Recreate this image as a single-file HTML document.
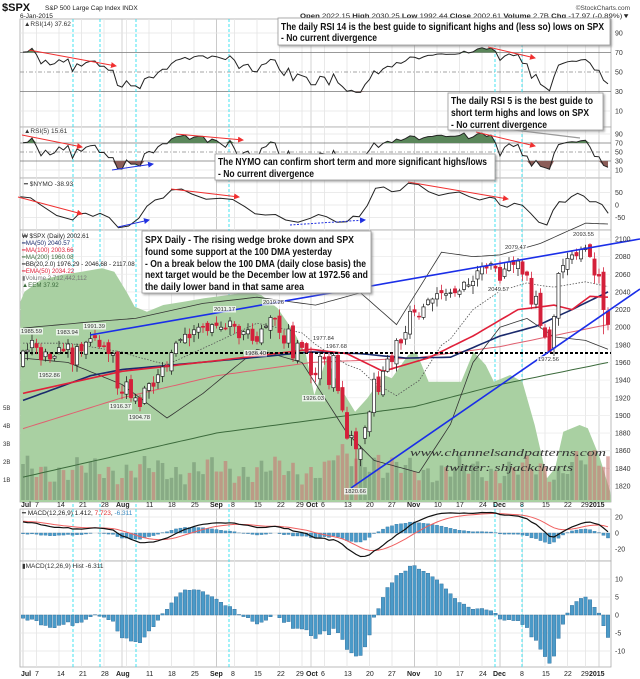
<!DOCTYPE html>
<html><head><meta charset="utf-8"><style>
html,body{margin:0;padding:0;background:#fff;}
svg{display:block;font-family:"Liberation Sans",sans-serif;}
</style></head><body>
<svg id="c" width="640" height="679" viewBox="0 0 640 679" xmlns="http://www.w3.org/2000/svg">
<defs>
<marker id="ar" markerWidth="6" markerHeight="6" refX="5" refY="3" orient="auto"><path d="M0,0 L6,3 L0,6 z" fill="#f03030"/></marker>
<marker id="ab" markerWidth="6" markerHeight="6" refX="5" refY="3" orient="auto"><path d="M0,0 L6,3 L0,6 z" fill="#2030e0"/></marker>
<filter id="sh" x="-5%" y="-5%" width="115%" height="130%"><feDropShadow dx="1.5" dy="1.5" stdDeviation="1" flood-color="#888" flood-opacity="0.7"/></filter>
</defs>
<g id="g"></g>
</svg>
<script>
(function(){
var g=document.getElementById('g');var S='';
function X(i){return 23+i*4.5;}
function yP(p){return 239+(2100-p)*0.882;}
function yR14(v){return 120.75-v*0.975;}
function yR5(v){return 174.5-v*0.45;}
function yN(v){return 205-v*0.25;}
function yM(v){return 533-v*0.8;}
function yH(v){return 615-v*3.6;}
var C=[1973,1974,1985,1977,1963,1972,1964,1967,1977,1973,1981,1958,1978,1973,1983,1987,1988,1978,1978,1970,1970,1931,
1925,1938,1920,1920,1910,1931,1936,1933,1946,1955,1955,1971,1982,1986,1992,1988,1997,2000,2000,1996,2003,
2002,2000,1998,2007,2001,1988,1995,1997,1985,1984,1998,2001,2011,2010,1994,1982,1998,1965,1982,1977,1972,
1946,1946,1967,1964,1935,1968,1928,1906,1874,1877,1862,1862,1886,1904,1941,1927,1950,1964,1961,1985,1982,1994,2018,
2017,2012,2023,2031,2032,2038,2039,2038,2039,2039,2041,2051,2048,2052,2064,2069,2067,2072,2067,
2053,2066,2074,2071,2075,2060,2059,2026,2035,2002,1989,1972,2012,2061,2070,2078,2082,2081,2088,2090,2080,2059,
2058,2020,2003];
var N=C.length;
function interp(pts){var r=[];for(var i=0;i<N;i++){for(var k=0;k<pts.length-1;k++){if(i>=pts[k][0]&&i<=pts[k+1][0]){var t=(i-pts[k][0])/(pts[k+1][0]-pts[k][0]);r.push(pts[k][1]+t*(pts[k+1][1]-pts[k][1]));break;}}}return r;}
function poly(arr,yf,col,w,extra){var p=arr.map(function(v,i){return X(i).toFixed(1)+','+yf(v).toFixed(1)}).join(' ');return '<polyline points="'+p+'" fill="none" stroke="'+col+'" stroke-width="'+w+'" '+(extra||'')+'/>';}
function txt(x,y,s,sz,col,extra){return '<text x="'+x+'" y="'+y+'" font-size="'+sz+'" fill="'+(col||'#222')+'" '+(extra||'')+'>'+s+'</text>';}
// panels
var panels=[[20,19,127],[20,127,178],[20,178,230],[20,230,502],[20,509,561],[20,561,667]];
panels.forEach(function(p){S+='<rect x="20" y="'+p[1]+'" width="591" height="'+(p[2]-p[1])+'" fill="#fff" stroke="#aaa" stroke-width="0.8"/>';});
// weekly grid
var wk=[3,8,13,18,23,28,33,38,43,47,52,57,62,67,72,77,82,87,92,97,102,106,111,116,121,125];
var months=[0,22,43,64,87,106,128];
function vgrid(y1,y2){wk.concat(months).forEach(function(i){S+='<line x1="'+X(i)+'" y1="'+y1+'" x2="'+X(i)+'" y2="'+y2+'" stroke="'+(months.indexOf(i)>=0?'#c8c8c8':'#e4e4e4')+'" stroke-width="0.8"/>';});}
panels.forEach(function(p){vgrid(p[1],p[2]);});
// horizontal grids
function hl(y,col,dash){S+='<line x1="20" y1="'+y+'" x2="611" y2="'+y+'" stroke="'+col+'" stroke-width="0.8" '+(dash?'stroke-dasharray="'+dash+'"':'')+'/>';}
[90,10].forEach(function(v){hl(yR14(v),'#e4e4e4');});hl(yR14(70),'#777');hl(yR14(30),'#777');hl(yR14(50),'#888','4,2,1,2');
[90,10].forEach(function(v){hl(yR5(v),'#e4e4e4');});hl(yR5(70),'#777');hl(yR5(30),'#777');hl(yR5(50),'#888','4,2,1,2');
[50,-50].forEach(function(v){hl(yN(v),'#e4e4e4');});hl(yN(0),'#e4e4e4');
for(var p=1820;p<=2100;p+=20)hl(yP(p),'#ececec');
[20,-20].forEach(function(v){hl(yM(v),'#e4e4e4');});hl(yM(0),'#ddd');
[10,5,-5,-10].forEach(function(v){hl(yH(v),'#e4e4e4');});hl(yH(0),'#ddd');
// cyan lines
[73,100,136,229,495,522].forEach(function(x){S+='<line x1="'+x+'" y1="19" x2="'+x+'" y2="667" stroke="#30e0f0" stroke-width="0.9" stroke-dasharray="3,2"/>';});
// RSI compute
function rsi(n,ag,al){var r=[];for(var i=0;i<N;i++){var d=i?C[i]-C[i-1]:0;ag=(ag*(n-1)+Math.max(d,0))/n;al=(al*(n-1)+Math.max(-d,0))/n;r.push(100-100/(1+ag/al));}return r;}
var R14=rsi(14,5,2.1),R5=rsi(5,6,2.5);
function fillArea(arr,yf,lvl,above,col){var yl=yf(lvl);var p=X(0)+','+yl+' ';arr.forEach(function(v,i){var y=yf(v);y=above?Math.min(y,yl):Math.max(y,yl);p+=X(i).toFixed(1)+','+y.toFixed(1)+' ';});p+=X(N-1)+','+yl;S+='<polygon points="'+p+'" fill="'+col+'"/>';}
fillArea(R14,yR14,70,true,'#5a865a');fillArea(R14,yR14,30,false,'#8b5d58');
S+=poly(R14,yR14,'#222',1);
fillArea(R5,yR5,70,true,'#5a865a');fillArea(R5,yR5,30,false,'#8b5d58');
S+=poly(R5,yR5,'#222',1);
// NYMO
var nyz=[[50,590],[100,615],[178,660],[210,640],[245,640],[290,683],[340,655],[380,600],[420,570],[470,582],[540,595],[600,620],[650,645],[700,660],[760,655],[800,650],[850,665],[880,650],[920,565],[960,575],[1000,550],[1050,575],[1100,580],[1150,590],[1200,592],[1225,615],[1260,610],[1300,640],[1340,675],[1370,605],[1400,590],[1430,588],[1460,605],[1490,640]];
var np='';nyz.forEach(function(q,k){var x=q[0]/2.45,y=q[1]/3;var nx=k<nyz.length-1?nyz[k+1][0]/2.45:x;var ny=k<nyz.length-1?nyz[k+1][1]/3:y;np+=x.toFixed(1)+','+y.toFixed(1)+' ';if(k<nyz.length-1){var mx=(x+nx)/2,my=(y+ny)/2+((k%2)?3:-3);np+=mx.toFixed(1)+','+my.toFixed(1)+' ';}});
S+='<polyline points="'+np+'" fill="none" stroke="#222" stroke-width="1"/>';
// Main: EEM area
var ee=[[50,230],[60,200],[100,165],[150,150],[200,140],[250,130],[280,140],[310,200],[330,245],[360,260],[400,240],[450,230],[500,220],[560,210],[610,200],[640,210],[680,250],[720,320],[750,390],[770,510],[800,400],[830,480],[870,560],[900,520],[940,450],[960,460],[1000,390],[1020,380],[1050,470],[1100,470],[1130,470],[1160,380],[1190,420],[1210,470],[1250,450],[1280,470],[1310,600],[1340,760],[1360,730],[1380,620],[1420,600],[1440,610],[1470,700],[1495,800]];
var ep='20,502 ';ee.forEach(function(q){ep+=(q[0]/2.45).toFixed(1)+','+(225+q[1]/3).toFixed(1)+' ';});ep+='611,502';
S+='<polygon points="'+ep+'" fill="#a9d0a2"/>';
// volume
for(var i=0;i<N;i++){var h=30+9*Math.sin(i*1.7)+6*Math.cos(i*0.45)+(i>68&&i<80?12:0)+(i>120?8:0);var up=i?C[i]>=C[i-1]:true;S+='<rect x="'+(X(i)-1.8).toFixed(1)+'" y="'+(500-h).toFixed(1)+'" width="3.6" height="'+h.toFixed(1)+'" fill="'+(up?'rgba(110,140,110,0.55)':'rgba(200,120,115,0.6)')+'"/>';}
// volume axis labels
['5B','4B','3B','2B','1B'].forEach(function(s,k){S+=txt(3,410+k*18,s,6,'#333');});
// MAs
S+=poly(interp([[0,1830],[43,1880],[87,1910],[106,1935],[130,1960]]),yP,'#3c6b3c',1);
S+=poly(interp([[0,1885],[22,1920],[43,1945],[64,1960],[87,1965],[106,1978],[130,2003]]),yP,'#e06070',1);
var bbU=interp([[0,1999],[15,2006],[25,2010],[40,2027],[52,2034],[65,2025],[75,2039],[83,2003],[93,2085],[100,2080],[106,2082],[115,2095],[125,2118],[130,2117]]);
var bbL=interp([[0,1965],[10,1960],[22,1935],[32,1897],[40,1925],[52,1975],[62,1960],[72,1880],[78,1849],[88,1835],[95,1890],[100,1960],[106,2000],[112,2010],[118,1989],[125,1985],[130,1975]]);
S+=poly(bbU,yP,'#333',0.8);S+=poly(bbL,yP,'#333',0.8);
S+=poly(bbU.map(function(v,i){return (v+bbL[i])/2}),yP,'#555',0.8,'stroke-dasharray="1.5,1.5"');
S+=poly(interp([[0,1917],[15,1945],[22,1952],[35,1958],[50,1965],[64,1972],[75,1970],[85,1965],[95,1966],[106,1990],[114,2001],[122,2020],[130,2040]]),yP,'#1a2a6c',1.6);
S+=poly(interp([[0,1925],[22,1950],[43,1962],[64,1975],[72,1970],[80,1950],[90,1965],[100,1990],[110,2020],[118,2025],[122,2020],[126,2035],[130,2034]]),yP,'#e0203a',1.6);
// dotted support
S+='<line x1="20" y1="353" x2="611" y2="353" stroke="#000" stroke-width="2" stroke-dasharray="3,2"/>';
// candles
var prev=1960;
for(var i=0;i<N;i++){var c=C[i];var o=prev+(((i*37)%11)-5)*0.9;if(i==75||i==76)o=c-12;if(i==117)o=c+25;var hi=Math.max(o,c)+((i*13)%7)+1.5,lo=Math.min(o,c)-((i*17)%9)-1.5;
if(i==74)lo=1820.66;if(i==117)lo=1972.56;if(i==26)lo=1904.78;if(i==125)hi=2093.55;if(i==129)lo=1992;
var x=X(i);var dn=c<o;S+='<line x1="'+x+'" y1="'+yP(hi).toFixed(1)+'" x2="'+x+'" y2="'+yP(lo).toFixed(1)+'" stroke="'+(dn?'#d4203a':'#222')+'" stroke-width="0.8"/>';
var yt=yP(Math.max(o,c)),yb=yP(Math.min(o,c));S+='<rect x="'+(x-1.6).toFixed(1)+'" y="'+yt.toFixed(1)+'" width="3.2" height="'+Math.max(yb-yt,0.8).toFixed(1)+'" fill="'+(dn?'#d4203a':'#fff')+'" stroke="'+(dn?'#d4203a':'#222')+'" stroke-width="0.7"/>';prev=c;}
// blue wedge
S+='<line x1="90" y1="335" x2="640" y2="239" stroke="#1a2ee8" stroke-width="1.6"/>';
S+='<line x1="351" y1="488" x2="640" y2="289" stroke="#1a2ee8" stroke-width="1.6"/>';
// price labels
[['1985.59',21,333],['1983.94',57,334],['1991.39',84,328],['1952.86',39,377],['1916.37',110,408],['1904.78',129,419],['2011.17',214,311],['2019.26',263,304],['1977.84',313,340],['1967.68',326,348],['1936.40',245,355],['1926.03',303,400],['1820.66',345,493],['2079.47',505,249],['2049.57',488,291],['2093.55',573,236],['1972.56',538,361]].forEach(function(l){S+='<rect x="'+(l[1]-1)+'" y="'+(l[2]-5)+'" width="23" height="6.5" fill="rgba(255,255,255,0.75)"/>'+txt(l[1],l[2],l[0],5.5,'#333','textLength="21" lengthAdjust="spacingAndGlyphs"');});
// watermark
S+=txt(410,456,'www.channelsandpatterns.com',11,'#333','font-family="Liberation Serif,serif" font-style="italic" textLength="196" lengthAdjust="spacingAndGlyphs"');
S+=txt(445,471,'twitter: shjackcharts',11,'#333','font-family="Liberation Serif,serif" font-style="italic" textLength="128" lengthAdjust="spacingAndGlyphs"');
// MACD
var e12=1973,e26=1958,sig=15,M=[],SG=[],H=[];
for(var i=0;i<N;i++){e12=e12+(C[i]-e12)*2/13;e26=e26+(C[i]-e26)*2/27;var m=e12-e26;sig=sig+(m-sig)*0.2;M.push(m);SG.push(sig);H.push(m-sig);}
for(var i=0;i<N;i++){var y0=yM(0),y1=yM(H[i]);S+='<rect x="'+(X(i)-1.6).toFixed(1)+'" y="'+Math.min(y0,y1).toFixed(1)+'" width="3.2" height="'+Math.abs(y1-y0).toFixed(1)+'" fill="#4a9ac8" stroke="#2a6a98" stroke-width="0.3"/>';
y0=yH(0);y1=yH(H[i]);S+='<rect x="'+(X(i)-1.7).toFixed(1)+'" y="'+Math.min(y0,y1).toFixed(1)+'" width="3.4" height="'+Math.abs(y1-y0).toFixed(1)+'" fill="#4a9ac8" stroke="#2a6a98" stroke-width="0.4"/>';}
S+=poly(SG,yM,'#f06060',1);S+=poly(M,yM,'#111',1.2);
// arrows
[[29,50,116,66,'ar'],[488,47,535,58,'ar'],[22,135,82,147,'ar'],[176,134,243,140,'ar'],[476,132,535,146,'ar'],[112,170,153,164,'ab'],[18,197,82,214,'ar'],[171,189,239,197,'ar'],[408,182,508,199,'ar'],[118,227,149,220,'ab']].forEach(function(a){S+='<line x1="'+a[0]+'" y1="'+a[1]+'" x2="'+a[2]+'" y2="'+a[3]+'" stroke="'+(a[4]=='ar'?'#f03030':'#2030e0')+'" stroke-width="1" marker-end="url(#'+a[4]+')"/>';});
S+='<line x1="290" y1="225" x2="365" y2="220" stroke="#2030e0" stroke-width="1" stroke-dasharray="2,1.5" marker-end="url(#ab)"/>';
S+='<line x1="506" y1="129" x2="580" y2="138" stroke="#999" stroke-width="1.2"/>';
// right axis labels
function ra(y,s){S+=txt(615,y+2.5,s,7,'#333');}
[90,70,50,30,10].forEach(function(v){ra(yR14(v),v);});
[90,70,50,30,10].forEach(function(v){ra(yR5(v),v);});
[[50,'50'],[0,'0'],[-50,'-50']].forEach(function(v){ra(yN(v[0]),v[1]);});
for(var p=1820;p<=2100;p+=20)ra(yP(p),p);
[[20,'20'],[0,'0'],[-20,'-20']].forEach(function(v){ra(yM(v[0]),v[1]);});
[[10,'10'],[5,'5'],[0,'0'],[-5,'-5'],[-10,'-10']].forEach(function(v){ra(yH(v[0]),v[1]);});
// date axes
var dl=[['Jul',21,1],['7',35],['14',57],['21',79],['28',101],['Aug',116,1],['11',146],['18',168],['25',191],['Sep',210,1],['8',231],['15',254],['22',277],['29',296],['Oct',306,1],['6',321],['13',344],['20',366],['27',388],['Nov',407,1],['10',434],['17',456],['24',479],['Dec',493,1],['8',520],['15',542],['22',564],['29',581],['2015',589,1]];
[507,676].forEach(function(y){dl.forEach(function(d){S+=txt(d[1],y,d[0],7,'#222',d[2]?'font-weight="bold"':'');});});
// panel labels
S+=txt(24,26,'▲RSI(14) 37.62',6.5,'#333');
S+=txt(24,133,'▲RSI(5) 15.61',6.5,'#333');
S+=txt(24,186,'━ $NYMO -38.93',6.5,'#333');
S+=txt(22,515,'━ MACD(12,26,9) 1.412, <tspan fill="#e03030">7.723</tspan>, <tspan fill="#3a8ac0">-6.311</tspan>',6.5,'#222');
S+=txt(22,568,'▮MACD(12,26,9) Hist -6.311',6.5,'#333');
var lg=[['₩ $SPX (Daily) 2002.61','#222'],['━MA(50) 2040.57','#1a2a6c'],['━MA(100) 2003.66','#e0203a'],['━MA(200) 1960.08','#3c6b3c'],['━BB(20,2.0) 1976.29 - 2046.68 - 2117.08','#222'],['━EMA(50) 2034.22','#e0203a'],['▮Volume 2,712,442,112','#777'],['▲EEM 37.92','#3c6b3c']];
lg.forEach(function(l,k){S+=txt(22,238+k*7,l[0],6.2,l[1]);});
// header
S+=txt(2,11,'$SPX',11,'#111','font-weight="bold"');
S+=txt(45,10,'S&amp;P 500 Large Cap Index  INDX',6.5,'#222');
S+=txt(20,18,'6-Jan-2015',6.5,'#222');
S+=txt(630,10,'©StockCharts.com',6.5,'#444','text-anchor="end"');
S+=txt(300,18,'<tspan font-weight="bold">Open</tspan> 2022.15 <tspan font-weight="bold">High</tspan> 2030.25 <tspan font-weight="bold">Low</tspan> 1992.44 <tspan font-weight="bold">Close</tspan> 2002.61 <tspan font-weight="bold">Volume</tspan> 2.7B <tspan font-weight="bold">Chg</tspan> -17.97 (-0.89%)▼',6.5,'#222','textLength="330" lengthAdjust="spacingAndGlyphs"');
// annotation boxes
function box(x,y,w,h,lines){S+='<rect x="'+x+'" y="'+y+'" width="'+w+'" height="'+h+'" fill="#fff" stroke="#999" stroke-width="0.8" filter="url(#sh)"/>';lines.forEach(function(l){S+=txt(x+3,l[1],l[0],10.5,'#111','font-weight="bold" textLength="'+l[2]+'" lengthAdjust="spacingAndGlyphs"');});}
box(278,18,332,27,[['The daily RSI 14 is the best guide to significant highs and (less so) lows on SPX',30,323],['- No current divergence',41,96]]);
box(448,93,155,37,[['The daily RSI 5 is the best guide to',104,142],['short term highs and lows on SPX',116,138],['- No current divergence',128,96]]);
box(215,154,280,26,[['The NYMO can confirm short term and more significant highs/lows',165,269],['- No current divergence',177,96]]);
box(142,231,229,62,[['SPX Daily - The rising wedge broke down and SPX',243,209],['found some support at the 100 DMA yesterday',255,187],['- On a break below the 100 DMA (daily close basis) the',267,221],['next target would be the December low at 1972.56 and',278,223],['the daily lower band in that same area',290,159]]);
g.innerHTML=S;
})();
</script>
</body></html>
